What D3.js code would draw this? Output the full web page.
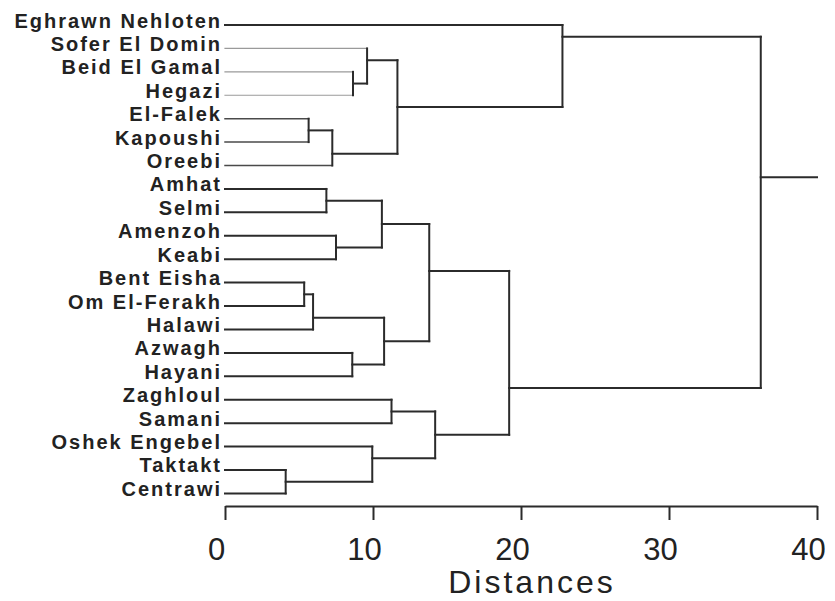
<!DOCTYPE html>
<html>
<head>
<meta charset="utf-8">
<script src="https://cdn.jsdelivr.net/npm/d3@7"></script>
<style>
  body { margin: 0; background: #fff; }
  svg { display: block; font-family: "Liberation Sans", Arial, sans-serif; }
</style>
</head>
<body>
<div id="tree"></div>
<script>
// leaves, top to bottom
const leaves = [
  "Eghrawn Nehloten", "Sofer El Domin", "Beid El Gamal", "Hegazi", "El-Falek",
  "Kapoushi", "Oreebi", "Amhat", "Selmi", "Amenzoh", "Keabi", "Bent Eisha",
  "Om El-Ferakh", "Halawi", "Azwagh", "Hayani", "Zaghloul", "Samani",
  "Oshek Engebel", "Taktakt", "Centrawi"
];

// joins, in order of distance: id = upper child + lower child
const mergeIds = ["c1", "c2", "c3", "c4", "c5", "c6", "c7", "c8", "c9", "c10",
  "c11", "c12", "c13", "c14", "c15", "c16", "c17", "c18", "c19", "c20"];
const mergeUpper = ["Taktakt", "Bent Eisha", "El-Falek", "c2", "Amhat", "c3",
  "Amenzoh", "Azwagh", "Beid El Gamal", "Sofer El Domin", "Oshek Engebel", "c5",
  "c4", "Zaghloul", "c10", "c12", "c14", "c16", "Eghrawn Nehloten", "c19"];
const mergeLower = ["Centrawi", "Om El-Ferakh", "Kapoushi", "Halawi", "Selmi",
  "Oreebi", "Keabi", "Hayani", "Hegazi", "c9", "c1", "c7", "c8", "Samani", "c6",
  "c13", "c11", "c17", "c15", "c18"];
const mergeDistances = [4.1, 5.35, 5.65, 5.95, 6.85, 7.25, 7.5, 8.6, 8.65, 9.6,
  9.95, 10.6, 10.75, 11.25, 11.65, 13.8, 14.2, 19.2, 22.8, 36.2];

const tickValues = [0, 10, 20, 30, 40];
const axisTitle = "Distances";

const width = 835, height = 601;
const ink = "#2b2b2b";
// scan makes these leaf lines look faded
const fadedLeaves = new Set(["Sofer El Domin", "Beid El Gamal", "Hegazi"]);
const thinLeaves = new Set(["El-Falek", "Kapoushi", "Oreebi"]);

const x = d3.scaleLinear().domain([0, 40]).range([225, 817]);
const y = d3.scaleLinear().domain([0, leaves.length - 1]).range([25, 493.4]);

// build the tree
const nodes = new Map();
leaves.forEach(name => nodes.set(name, { name, dist: 0 }));
mergeIds.forEach((id, i) => {
  nodes.set(id, {
    name: id,
    dist: mergeDistances[i],
    children: [nodes.get(mergeUpper[i]), nodes.get(mergeLower[i])]
  });
});
const root = d3.hierarchy(nodes.get(mergeIds[mergeIds.length - 1]));

// a join sits on the gap between its two children
const rowOf = new Map(leaves.map((d, i) => [d, i]));
root.eachAfter(n => {
  if (!n.children) n.row = rowOf.get(n.data.name);
  else n.row = d3.max(n.children[0].leaves(), l => rowOf.get(l.data.name)) + 0.5;
});

const svg = d3.select("#tree")
  .append("svg")
    .attr("width", width)
    .attr("height", height)
    .attr("viewBox", [0, 0, width, height]);

const links = svg.append("g")
  .attr("fill", "none")
  .attr("stroke-linecap", "square");

// horizontal arms
links.selectAll(".arm")
  .data(root.descendants().filter(n => n.parent))
  .join("line")
    .attr("class", "arm")
    .attr("x1", n => x(n.data.dist))
    .attr("x2", n => x(n.parent.data.dist))
    .attr("y1", n => y(n.row))
    .attr("y2", n => y(n.row))
    .attr("stroke", n => fadedLeaves.has(n.data.name) ? "#9a9a9a"
      : thinLeaves.has(n.data.name) ? "#4a4a4a" : ink)
    .attr("stroke-width", n => fadedLeaves.has(n.data.name) ? 1.2
      : thinLeaves.has(n.data.name) ? 1.5 : 2);

// vertical joins
links.selectAll(".join")
  .data(root.descendants().filter(n => n.children))
  .join("line")
    .attr("class", "join")
    .attr("x1", n => x(n.data.dist))
    .attr("x2", n => x(n.data.dist))
    .attr("y1", n => y(n.children[0].row))
    .attr("y2", n => y(n.children[1].row))
    .attr("stroke", ink)
    .attr("stroke-width", 2);

// root stub
links.append("line")
  .attr("x1", x(root.data.dist))
  .attr("x2", x(40))
  .attr("y1", y(root.row))
  .attr("y2", y(root.row))
  .attr("stroke", ink)
  .attr("stroke-width", 2);

// leaf labels
svg.append("g")
  .selectAll("text")
  .data(root.leaves())
  .join("text")
    .attr("x", 222)
    .attr("y", n => y(n.row) + 2.5)
    .attr("text-anchor", "end")
    .attr("font-size", 20)
    .attr("font-weight", "bold")
    .attr("letter-spacing", 2)
    .attr("fill", "#222")
    .text(n => n.data.name);

// axis
const bottomAxis = d3.axisBottom(x)
  .tickValues(tickValues)
  .tickSize(14)
  .tickSizeOuter(0);

const axisG = svg.append("g")
  .attr("transform", "translate(0, 506)")
  .call(bottomAxis);

axisG.select(".domain").attr("stroke", ink).attr("stroke-width", 2);
axisG.selectAll(".tick line").attr("stroke", ink).attr("stroke-width", 2);
axisG.selectAll(".tick text")
  .attr("y", 53.5)
  .attr("dy", null)
  .attr("dx", -9)
  .attr("fill", "#222")
  .attr("font-size", 31)
  .attr("font-family", "Liberation Sans, Arial, sans-serif");

svg.append("text")
  .attr("x", 532)
  .attr("y", 593)
  .attr("text-anchor", "middle")
  .attr("font-size", 32)
  .attr("letter-spacing", 3)
  .attr("fill", "#222")
  .text(axisTitle);
</script>
</body>
</html>
